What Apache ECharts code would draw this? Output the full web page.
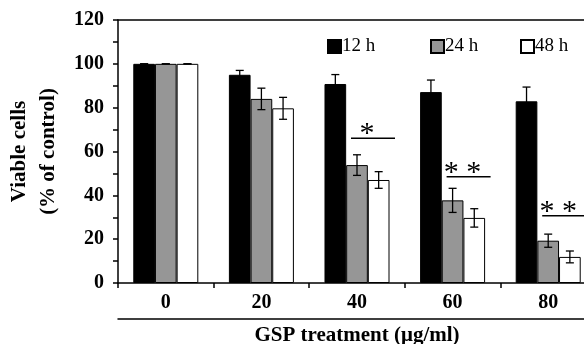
<!DOCTYPE html>
<html>
<head>
<meta charset="utf-8">
<script src="https://cdn.jsdelivr.net/npm/echarts@6/dist/echarts.min.js"></script>
<style>
  html, body { margin: 0; padding: 0; background: #fff; }
  #chart { width: 584px; height: 344px; }
</style>
</head>
<body>
<div id="chart"></div>
<script>
// GSP doses (µg/ml)
var doses = ['0', '20', '40', '60', '80'];
var seriesNames = ['12 h', '24 h', '48 h'];

// viable cells (% of control)
var mean12 = [100, 95, 90.8, 87.1, 82.9];
var mean24 = [100, 84, 53.8, 37.7, 19.3];
var mean48 = [100, 79.7, 47, 29.7, 11.9];
var err12 = [0, 2, 4.3, 5.5, 6.5];
var err24 = [0, 4.9, 4.7, 5.5, 3];
var err48 = [0, 5, 3.8, 4.2, 2.7];

// significance marks: category index, level, label
var sigIndex = [2, 3, 4];
var sigLevel = [66, 48.5, 30.7];
var sigText = ['*', '* *', '* *'];

var serif = '"Liberation Serif", "Times New Roman", serif';
var GAP = 0.32;

function errSeries(idx, means, errs) {
    var data = [];
    for (var i = 0; i < means.length; i++) {
        data.push([i, means[i], errs[i]]);
    }
    return {
        type: 'custom',
        silent: true,
        z: 5,
        data: data,
        renderItem: function (params, api) {
            var band = api.size([1, 0])[0];
            var bw = band * (1 - GAP) / 3;
            var c = api.coord([api.value(0), api.value(1)]);
            var x = c[0] + (idx - 1) * bw;
            var top = api.coord([api.value(0), api.value(1) + api.value(2)])[1];
            var bot = api.coord([api.value(0), api.value(1) - api.value(2)])[1];
            var cap = 4;
            var st = {stroke: '#000', lineWidth: 1.3};
            return {
                type: 'group',
                children: [
                    {type: 'line', shape: {x1: x, y1: top, x2: x, y2: bot}, style: st},
                    {type: 'line', shape: {x1: x - cap, y1: top, x2: x + cap, y2: top}, style: st},
                    {type: 'line', shape: {x1: x - cap, y1: bot, x2: x + cap, y2: bot}, style: st}
                ]
            };
        }
    };
}

var sigData = [];
for (var k = 0; k < sigIndex.length; k++) {
    sigData.push([sigIndex[k], sigLevel[k], k]);
}

function legendItem(name, left) {
    return {
        data: [name],
        left: left,
        top: 37,
        padding: 0,
        itemWidth: 13,
        itemHeight: 13,
        itemGap: 0,
        icon: 'rect',
        textStyle: {fontFamily: serif, fontSize: 19, color: '#000', padding: [0, 0, 0, -4]}
    };
}

var myChart = echarts.init(document.getElementById('chart'));
var option = {
    animation: false,
    backgroundColor: '#fff',
    grid: {left: 118, right: -12, top: 20, bottom: 61, containLabel: false, outerBoundsMode: 'none'},
    legend: [
        legendItem(seriesNames[0], 327),
        legendItem(seriesNames[1], 430),
        legendItem(seriesNames[2], 520)
    ],
    xAxis: [
        {
            type: 'category',
            data: doses,
            position: 'bottom',
            axisLine: {lineStyle: {color: '#000', width: 1.5}},
            axisTick: {show: true, length: 5, lineStyle: {color: '#000', width: 1.5}},
            axisLabel: {fontFamily: serif, fontSize: 20, fontWeight: 'bold', color: '#000', margin: 10}
        },
        {
            type: 'category',
            data: doses,
            position: 'top',
            axisLine: {lineStyle: {color: '#000', width: 1.5}},
            axisTick: {show: false},
            axisLabel: {show: false}
        },
        {
            type: 'category',
            data: doses,
            position: 'bottom',
            offset: 36,
            axisLine: {lineStyle: {color: '#000', width: 1.5}},
            axisTick: {show: false},
            axisLabel: {show: false},
            name: 'GSP treatment (μg/ml)',
            nameLocation: 'middle',
            nameGap: 6,
            nameTextStyle: {fontFamily: serif, fontSize: 21, fontWeight: 'bold', color: '#000'}
        }
    ],
    yAxis: {
        type: 'value',
        min: 0,
        max: 120,
        interval: 20,
        name: 'Viable cells\n(% of control)',
        nameLocation: 'middle',
        nameGap: 54,
        nameTextStyle: {fontFamily: serif, fontSize: 21, fontWeight: 'bold', color: '#000', lineHeight: 29},
        axisLine: {show: true, lineStyle: {color: '#000', width: 1.5}},
        axisTick: {show: true, length: 5, lineStyle: {color: '#000', width: 1.5}},
        minorTick: {show: true, splitNumber: 2, length: 5, lineStyle: {color: '#000', width: 1.5}},
        splitLine: {show: false},
        axisLabel: {fontFamily: serif, fontSize: 20, fontWeight: 'bold', color: '#000', margin: 14}
    },
    series: [
        {
            name: seriesNames[0], type: 'bar', data: mean12, barGap: 0, barCategoryGap: GAP * 100 + '%',
            itemStyle: {color: '#000', borderColor: '#000', borderWidth: 1}
        },
        {
            name: seriesNames[1], type: 'bar', data: mean24, barGap: 0, barCategoryGap: GAP * 100 + '%',
            itemStyle: {color: '#969696', borderColor: '#000', borderWidth: 1}
        },
        {
            name: seriesNames[2], type: 'bar', data: mean48, barGap: 0, barCategoryGap: GAP * 100 + '%',
            itemStyle: {color: '#fff', borderColor: '#000', borderWidth: 1}
        },
        errSeries(0, mean12, err12),
        errSeries(1, mean24, err24),
        errSeries(2, mean48, err48),
        {
            type: 'custom',
            silent: true,
            z: 6,
            data: sigData,
            renderItem: function (params, api) {
                var c = api.coord([api.value(0), api.value(1)]);
                var label = sigText[api.value(2)];
                return {
                    type: 'group',
                    children: [
                        {type: 'line', shape: {x1: c[0] - 6, y1: c[1], x2: c[0] + 38, y2: c[1]},
                            style: {stroke: '#000', lineWidth: 1.5}},
                        {type: 'text', x: c[0] + 10, y: c[1] + 11,
                            style: {text: label, fontFamily: serif, fontSize: 30, fill: '#000',
                                align: 'center', verticalAlign: 'bottom'}}
                    ]
                };
            }
        }
    ]
};
myChart.setOption(option);
</script>
</body>
</html>
